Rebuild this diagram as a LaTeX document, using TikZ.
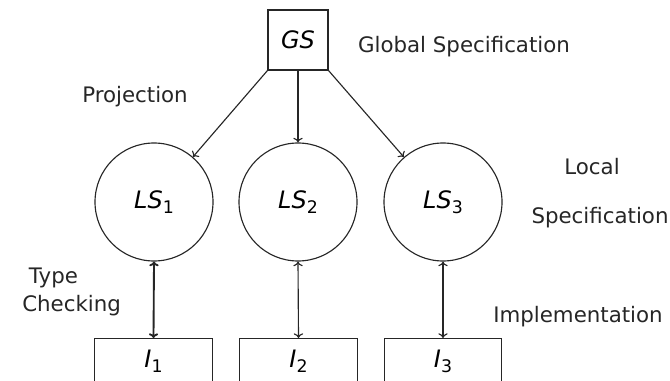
\documentclass[tikz,border=0pt]{standalone}
\usepackage{fontspec}
\setmainfont{DejaVu Sans}
\usetikzlibrary{arrows.meta}

% italic name with an upright lowered index
\newcommand\symname[2]{{\itshape #1}\raisebox{-0.4ex}{\fontsize{13}{13}\selectfont #2}}

\tikzset{
  line/.style={line width=0.85pt, draw=black!85},
  tip/.style={-{To[length=3.5pt,width=7pt]}},
  both/.style={{To[length=3.5pt,width=7pt]}-{To[length=3.5pt,width=7pt]}},
  symfont/.style={font=\fontsize{18}{20}\selectfont},
  caption/.style={font=\fontsize{16}{19}\selectfont, text=black!85, inner sep=0pt},
  specbox/.style={line, rectangle, symfont, minimum width=45pt, minimum height=45pt, inner sep=0pt},
  localnode/.style={line, circle, symfont, minimum size=88.5pt, inner sep=0pt},
  implbox/.style={line, rectangle, symfont, minimum width=88pt, minimum height=34pt, inner sep=0pt, anchor=north},
}

\begin{document}
\begin{tikzpicture}[x=0.75pt, y=-0.75pt]
  \useasboundingbox (0,0) rectangle (670,381);
  \clip (0,0) rectangle (670,381);

  % global specification
  \node[specbox] (GS) at (298,40) {{\itshape GS}};

  % local specifications
  \node[localnode] (LS1) at (154,202) {\symname{LS}{1}};
  \node[localnode] (LS2) at (298,202) {\symname{LS}{2}};
  \node[localnode] (LS3) at (443,202) {\symname{LS}{3}};

  % implementations (lower edge runs off the page)
  \node[implbox] (I1) at (153.5,338) {\symname{I}{1}};
  \node[implbox] (I2) at (298.5,338) {\symname{I}{2}};
  \node[implbox] (I3) at (443,338) {\symname{I}{3}};

  % projection arrows
  \draw[line, tip] (GS.south west) -- (LS1);
  \draw[line, tip] (GS.south) -- (LS2.north);
  \draw[line, tip] (GS.south east) -- (LS3);

  % type checking arrows
  \draw[line, both, line width=1.4pt] (LS1.south) -- (I1.north);
  \draw[line, both] (LS2.south) -- (I2.north);
  \draw[line, both] (LS3.south) -- (I3.north);

  % captions
  \node[caption] (tglobal) at (464,47) {Global Specification};
  \node[caption] (tproj) at (135,97) {Projection};
  \node[caption] (tlocal) at (592,167) {Local};
  \node[caption] (tspec) at (600,218) {Specification};
  \node[caption] (timpl) at (578,317) {Implementation};
  \node[caption, align=left, anchor=west] (ttype) at (22,292) {\hspace*{5pt}Type\\[2pt]Checking};
\end{tikzpicture}
\end{document}
